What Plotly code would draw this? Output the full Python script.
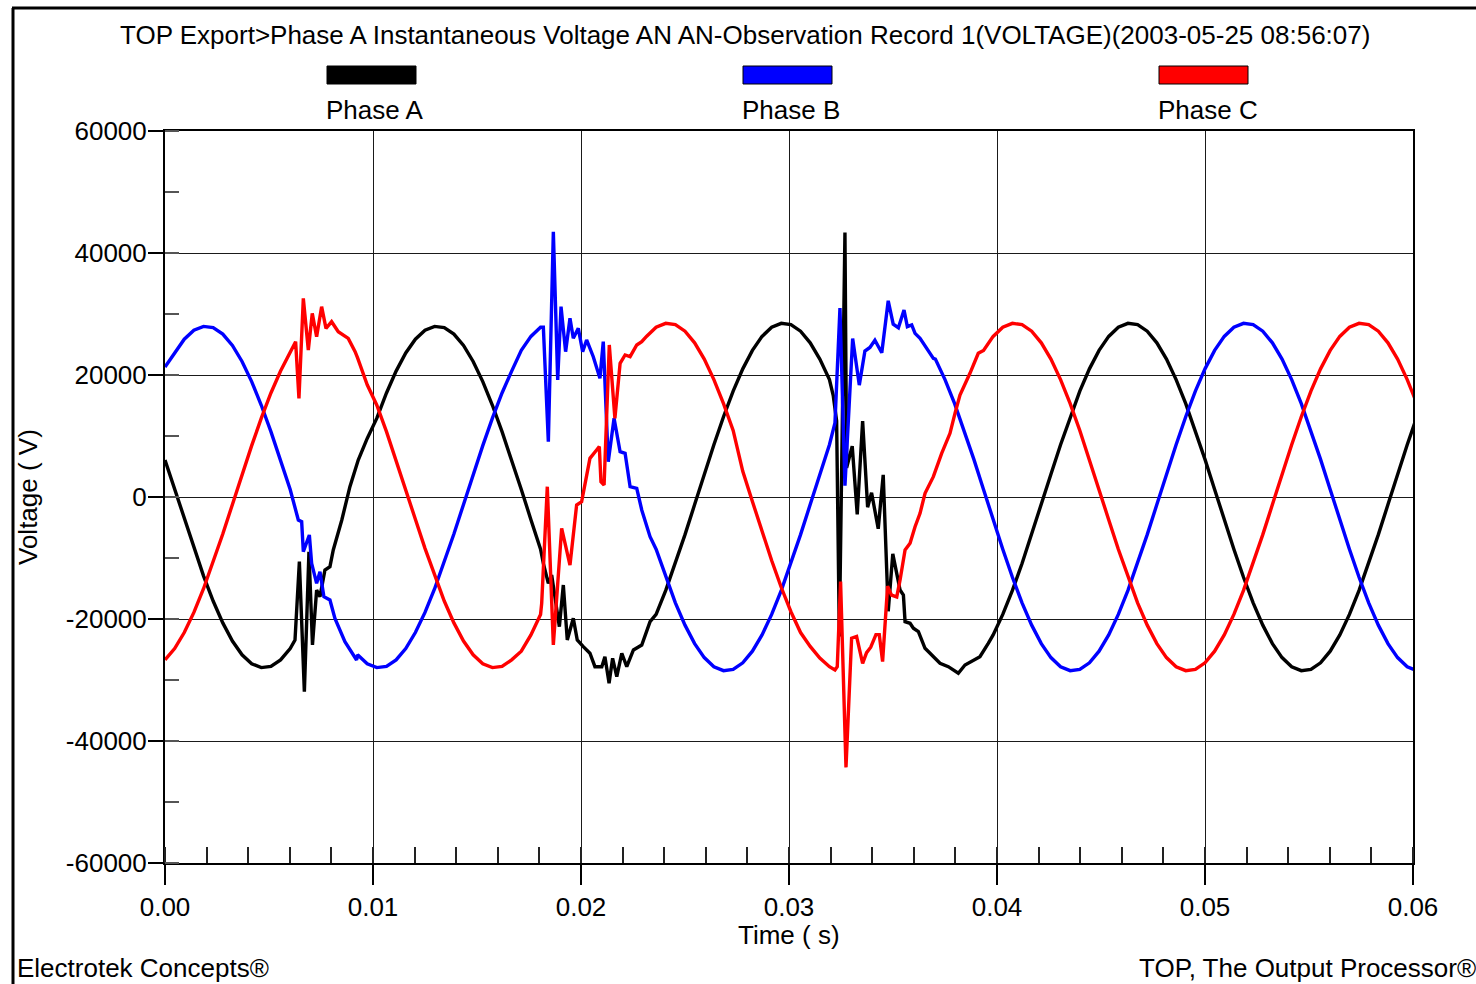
import numpy as np
import plotly.graph_objects as go

# Recorder sampling: 36 samples per 60 Hz cycle
SAMPLE_RATE = 2160

# Steady-state samples (V) on the uniform sampling grid
PHASE_A = [
    6060, 1220, -3650, -8420, -12930, -17050, -20640, -23620, -25870, -27340, -27970, -27760,
    -26700, -24840, -22220, -18920, -15040, -10720, -6060, -1220, 3650, 9600, 12930, 17050,
    20640, 23620, 25870, 27340, 27970, 27760, 26700, 24840, 22220, 18920, 15040, 10720,
    6060, 1240, -3720, -8570, -13160, -17350, -21010, -24040, -26330, -27820, -28470, -28250,
    -27180, -25280, -22610, -19250, -15310, -10910, -6170, -1240, 3720, 8570, 13160, 17350,
    21010, 24040, 26330, 27820, 28470, 28250, 27180, 25280, 22610, 19250, 15310, 10910,
    6170, 1240, -3720, -8570, -13160, -17350, -21010, -24040, -26330, -27820, -28470, -28250,
    -27180, -25280, -22610, -19250, -15310, -10910, -6170, -1240, 3720, 8570, 13160, 17350,
    21010, 24040, 26330, 27820, 28470, 28250, 27180, 25280, 22610, 19250, 15310, 10910,
    6170, 1240, -3720, -8570, -13160, -17350, -21010, -24040, -26330, -27820, -28470, -28250,
    -27180, -25280, -22610, -19250, -15310, -10910, -6170, -1240, 3720, 8570, 13160,
]

PHASE_B = [
    21300, 23620, 25870, 27340, 27970, 27760, 26700, 24840, 22220, 18920, 15040, 10720,
    6060, 1220, -3650, -8420, -12930, -17050, -20640, -23620, -25870, -27340, -27970, -27760,
    -26700, -24840, -22220, -18920, -15040, -10720, -6060, -1220, 3650, 8420, 12930, 17050,
    20640, 24040, 26330, 27820, 28470, 28250, 27180, 25280, 22610, 19250, 15310, 10910,
    6170, 1240, -3720, -8570, -13160, -17350, -21010, -24040, -26330, -27820, -28470, -28250,
    -27180, -25280, -22610, -19250, -15310, -10910, -6170, -1240, 3720, 8570, 13160, 17350,
    21010, 24040, 26330, 27820, 28470, 28250, 27180, 25280, 22610, 19250, 15310, 10910,
    6170, 1240, -3720, -8570, -13160, -17350, -21010, -24040, -26330, -27820, -28470, -28250,
    -27180, -25280, -22610, -19250, -15310, -10910, -6170, -1240, 3720, 8570, 13160, 17350,
    21010, 24040, 26330, 27820, 28470, 28250, 27180, 25280, 22610, 19250, 15310, 10910,
    6170, 1240, -3720, -8570, -13160, -17350, -21010, -24040, -26330, -27820, -28470,
]

PHASE_C = [
    -26700, -24840, -22220, -18920, -15040, -10720, -6060, -1220, 3650, 8420, 12930, 17050,
    20640, 23620, 25870, 27340, 27970, 27760, 26700, 24840, 22800, 18400, 15040, 10720,
    6060, 1220, -3650, -8420, -12930, -17050, -20640, -23620, -25870, -27340, -27970, -27760,
    -26700, -25280, -22610, -19250, -15310, -10910, -6170, -1240, 3720, 8570, 13160, 17350,
    21010, 24040, 26330, 27820, 28470, 28250, 27180, 25280, 22610, 19250, 15310, 10910,
    4200, -740, -5660, -10410, -14840, -18810, -22220, -24500, -26400, -27820, -28470, -28250,
    -27180, -25280, -22610, -19250, -15310, -10910, -6170, -1240, 3720, 8570, 13160, 17350,
    21010, 24040, 26330, 27820, 28470, 28250, 27180, 25280, 22610, 19250, 15310, 10910,
    6170, 1240, -3720, -8570, -13160, -17350, -21010, -24040, -26330, -27820, -28470, -28250,
    -27180, -25280, -22610, -19250, -15310, -10910, -6170, -1240, 3720, 8570, 13160, 17350,
    21010, 24040, 26330, 27820, 28470, 28250, 27180, 25280, 22610, 19250, 15310,
]

# Switching transients, captured at a finer time resolution: (time s, voltage V)
BURST_A1 = [(0.00625, -23440), (0.00646, -10600), (0.00670, -31900), (0.00692, -9000),
            (0.00709, -24260), (0.00729, -15250), (0.00745, -16340), (0.00769, -11970),
            (0.00793, -11420), (0.00809, -8690), (0.00850, -3770), (0.00889, 1690),
            (0.00929, 6070)]
BURST_A2 = [(0.01819, -10870), (0.01843, -14150), (0.01859, -12790), (0.01896, -21260),
            (0.01915, -14430), (0.01934, -23440), (0.01963, -19890), (0.01982, -23440),
            (0.02011, -24540), (0.02043, -25620), (0.02067, -27820), (0.02100, -27820),
            (0.02115, -26180), (0.02135, -30540), (0.02152, -26440), (0.02172, -29460),
            (0.02196, -25620), (0.02220, -27820), (0.02252, -25080), (0.02292, -24260),
            (0.02332, -20440)]
BURST_A3 = [(0.03213, 16570), (0.03229, 12460), (0.03242, -22850), (0.03269, 43340),
            (0.03277, 4800), (0.03304, 8330), (0.03328, -2850), (0.03354, 12460),
            (0.03378, -1670), (0.03397, 690), (0.03429, -5200), (0.03453, 3620),
            (0.03477, -18740), (0.03499, -9330), (0.03534, -15250), (0.03550, -16070),
            (0.03558, -20440), (0.03582, -20700), (0.03598, -21520), (0.03622, -22080),
            (0.03654, -24800), (0.03694, -26180), (0.03726, -27260), (0.03766, -27820),
            (0.03814, -28900), (0.03846, -27540), (0.03878, -27000), (0.03918, -26180),
            (0.03958, -23980)]

BURST_B1 = [(0.00641, -3770), (0.00657, -4040), (0.00665, -8960), (0.00694, -6230),
            (0.00705, -10870), (0.00729, -14150), (0.00745, -12240), (0.00764, -16340),
            (0.00793, -16880), (0.00817, -19890), (0.00865, -23720), (0.00921, -26720)]
BURST_B2 = [(0.01819, 27820), (0.01843, 9070), (0.01867, 43490), (0.01888, 19180),
            (0.01904, 31200), (0.01926, 23820), (0.01947, 29290), (0.01963, 26010),
            (0.01987, 27650), (0.02008, 23820), (0.02027, 25740), (0.02059, 23000),
            (0.02091, 19460), (0.02107, 25460), (0.02131, 5790), (0.02159, 12900),
            (0.02188, 7430), (0.02212, 7160), (0.02236, 1690), (0.02268, 1420),
            (0.02292, -2130), (0.02332, -6510)]
BURST_B3 = [(0.03221, 12160), (0.03245, 30980), (0.03269, 1850), (0.03306, 25980),
            (0.03338, 18340), (0.03365, 23930), (0.03389, 24520), (0.03413, 25690),
            (0.03446, 23640), (0.03477, 32160), (0.03501, 28340), (0.03526, 27750),
            (0.03553, 30660), (0.03569, 27920), (0.03590, 28200), (0.03606, 26830),
            (0.03630, 26010), (0.03662, 24370), (0.03694, 22730)]

BURST_C1 = [(0.00628, 25460), (0.00644, 16170), (0.00665, 32570), (0.00689, 24100),
            (0.00708, 30110), (0.00729, 26280), (0.00753, 31200), (0.00774, 27650),
            (0.00801, 28740), (0.00833, 27100), (0.00881, 26000), (0.00914, 23820)]
BURST_C2 = [(0.01811, -17430), (0.01838, 1690), (0.01867, -24260), (0.01907, -5130),
            (0.01947, -11150), (0.01979, -1310), (0.02003, -770), (0.02019, 1970),
            (0.02043, 6340), (0.02075, 7700), (0.02088, 8250), (0.02096, 2510),
            (0.02111, 1970), (0.02136, 24920), (0.02163, 12900), (0.02188, 21920),
            (0.02212, 23280), (0.02236, 23000), (0.02268, 24920), (0.02292, 25460)]
BURST_C3 = [(0.03221, -28360), (0.03232, -27820), (0.03248, -13880), (0.03274, -44330),
            (0.03301, -23150), (0.03325, -22850), (0.03354, -27260), (0.03373, -25510),
            (0.03393, -24620), (0.03418, -22560), (0.03434, -22560), (0.03450, -26970),
            (0.03474, -14610), (0.03493, -16080), (0.03518, -16380), (0.03534, -13610),
            (0.03558, -8690), (0.03582, -7590), (0.03606, -4870), (0.03630, -2670),
            (0.03654, 600), (0.03694, 3330), (0.03734, 7160), (0.03774, 10440),
            (0.03798, 13720), (0.03822, 16720), (0.03870, 20280), (0.03910, 23560)]

SERIES_NAMES = ["Phase A", "Phase B", "Phase C"]
SERIES_COLORS = ["#000000", "#0000FF", "#FF0000"]

X_TICKS = [0.0, 0.01, 0.02, 0.03, 0.04, 0.05, 0.06]
X_TICK_TEXT = ["0.00", "0.01", "0.02", "0.03", "0.04", "0.05", "0.06"]
Y_TICKS = [-60000, -40000, -20000, 0, 20000, 40000, 60000]
Y_TICK_TEXT = ["-60000", "-40000", "-20000", "0", "20000", "40000", "60000"]

TITLE = ("TOP Export>Phase A Instantaneous Voltage AN AN-Observation Record 1"
         "(VOLTAGE)(2003-05-25 08:56:07)")
X_TITLE = "Time ( s)"
Y_TITLE = "Voltage ( V)"
FOOT_LEFT = "Electrotek Concepts®"
FOOT_RIGHT = "TOP, The Output Processor®"

FONT = "Liberation Sans, Arial, sans-serif"

W, H = 1476, 984
L, R, T, B = 165, 63, 131, 121
PW, PH = W - L - R, H - T - B


def px(x):
    """pixel column -> paper x"""
    return (x - L) / PW


def py(y):
    """pixel row -> paper y"""
    return (H - B - y) / PH


def build(samples, bursts):
    t = np.arange(len(samples)) / SAMPLE_RATE
    v = np.asarray(samples, dtype=float)
    keep = np.ones(len(t), dtype=bool)
    bt_all, bv_all = [], []
    for burst in bursts:
        bt = np.array([p[0] for p in burst])
        bv = np.array([p[1] for p in burst], dtype=float)
        keep &= ~((t >= bt.min()) & (t <= bt.max()))
        bt_all.append(bt)
        bv_all.append(bv)
    tt = np.concatenate([t[keep]] + bt_all)
    vv = np.concatenate([v[keep]] + bv_all)
    order = np.argsort(tt, kind="stable")
    return tt[order], vv[order]


series = [
    build(PHASE_A, [BURST_A1, BURST_A2, BURST_A3]),
    build(PHASE_B, [BURST_B1, BURST_B2, BURST_B3]),
    build(PHASE_C, [BURST_C1, BURST_C2, BURST_C3]),
]

fig = go.Figure()
for (tt, vv), name, color in zip(series, SERIES_NAMES, SERIES_COLORS):
    fig.add_trace(go.Scatter(x=tt, y=vv, mode="lines", name=name,
                             line=dict(color=color, width=3.4), showlegend=False))

axis_common = dict(
    showgrid=True, gridcolor="#1a1a1a", gridwidth=1,
    showline=True, linecolor="#000000", linewidth=2, mirror=True,
    ticks="outside", tickcolor="#000000", tickwidth=2,
    zeroline=False,
    tickfont=dict(family=FONT, size=26, color="#000000"),
)

fig.update_xaxes(
    range=[0, 0.06], tickmode="array", tickvals=X_TICKS, ticktext=X_TICK_TEXT,
    ticklen=20,
    minor=dict(dtick=0.002, ticks="inside", ticklen=16, tickwidth=1.5,
               tickcolor="#222222", showgrid=False),
    **axis_common,
)
fig.update_yaxes(
    range=[-60000, 60000], tickmode="array", tickvals=Y_TICKS, ticktext=Y_TICK_TEXT,
    ticklen=15, ticklabelstandoff=-4,
    minor=dict(dtick=10000, ticks="inside", ticklen=14, tickwidth=1.5,
               tickcolor="#555555", showgrid=False),
    **axis_common,
)

shapes = [
    # outer frame (left and top edges)
    dict(type="line", xref="paper", yref="paper", x0=px(13), x1=px(13),
         y0=py(8), y1=py(H + 20), line=dict(color="#000000", width=3)),
    dict(type="line", xref="paper", yref="paper", x0=px(12), x1=px(W + 20),
         y0=py(8), y1=py(8), line=dict(color="#000000", width=3)),
]

annotations = [
    dict(text=TITLE, x=px(745), y=py(35), xref="paper", yref="paper",
         xanchor="center", yanchor="middle", showarrow=False,
         font=dict(family=FONT, size=26, color="#000000")),
    dict(text=X_TITLE, x=px(789), y=py(935), xref="paper", yref="paper",
         xanchor="center", yanchor="middle", showarrow=False,
         font=dict(family=FONT, size=26, color="#000000")),
    dict(text=Y_TITLE, x=px(28), y=py(497), xref="paper", yref="paper",
         xanchor="center", yanchor="middle", showarrow=False, textangle=-90,
         font=dict(family=FONT, size=26, color="#000000")),
    dict(text=FOOT_LEFT, x=px(15), y=py(968), xref="paper", yref="paper",
         xanchor="left", yanchor="middle", showarrow=False,
         font=dict(family=FONT, size=26, color="#000000")),
    dict(text=FOOT_RIGHT, x=px(1478), y=py(968), xref="paper", yref="paper",
         xanchor="right", yanchor="middle", showarrow=False,
         font=dict(family=FONT, size=26, color="#000000")),
]

# legend: colour swatch above each series name
legend_left = [327, 743, 1159]
for x0, name, color in zip(legend_left, SERIES_NAMES, SERIES_COLORS):
    shapes.append(dict(type="rect", xref="paper", yref="paper",
                       x0=px(x0), x1=px(x0 + 89), y0=py(84), y1=py(66),
                       fillcolor=color, line=dict(color="#000000", width=1)))
    annotations.append(dict(text=name, x=px(x0 - 3), y=py(110), xref="paper",
                            yref="paper", xanchor="left", yanchor="middle",
                            showarrow=False,
                            font=dict(family=FONT, size=26, color="#000000")))

fig.update_layout(
    width=W, height=H, autosize=False,
    margin=dict(l=L, r=R, t=T, b=B),
    paper_bgcolor="#FFFFFF", plot_bgcolor="#FFFFFF",
    shapes=shapes, annotations=annotations,
    showlegend=False,
)

fig.write_html("out.html")
